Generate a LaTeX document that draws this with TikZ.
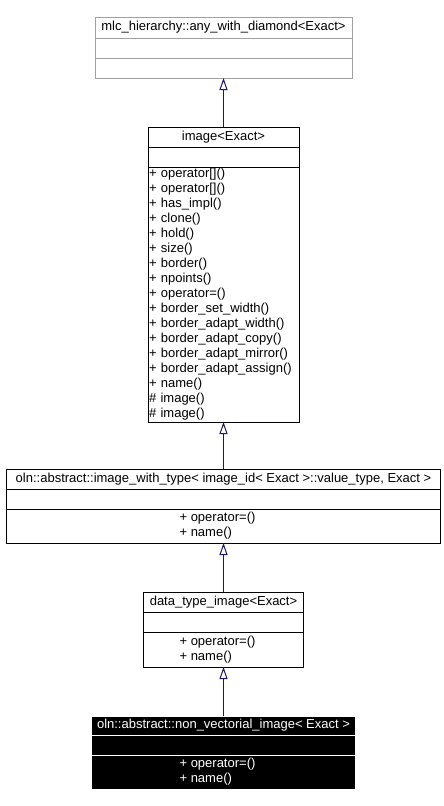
\documentclass[tikz,border=0pt]{standalone}
\usepackage{fontspec}
\setmainfont{Liberation Sans}
\usepackage{tikz}
\usetikzlibrary{arrows,arrows.meta,shapes,positioning,calc}
\definecolor{edgeblue}{RGB}{25,25,112}
\definecolor{undocgray}{RGB}{160,160,160}
\newcommand{\memberblock}[1]{\begin{tabular}{@{}l@{\hspace{12pt}}}#1\end{tabular}}

\begin{document}
\begin{tikzpicture}[x=1pt,y=-1pt,
	font=\fontsize{13}{15}\selectfont,
	compartment/.style={draw,line width=1pt,inner sep=0pt,outer sep=0pt,minimum height=20pt},
	undoc/.style={draw=undocgray},
	current/.style={fill=black,draw=white,text=white},
	inherit/.style={draw=edgeblue,line width=1pt,-{Triangle[open,length=12pt,width=8pt,fill=white]}}]
	\useasboundingbox (0,0) rectangle (444,806);

	\node[compartment,undoc,minimum width=257pt,minimum height=21pt,anchor=north] (mlc) at (223.5,17) {mlc\_hierarchy::any\_with\_diamond<Exact>};
	\node[compartment,undoc,minimum width=257pt,below=0pt of mlc] (mlcAttr) {};
	\node[compartment,undoc,minimum width=257pt,below=0pt of mlcAttr] (mlcOps) {};

	\node[compartment,minimum width=151pt,anchor=north] (img) at (223.5,127) {image<Exact>};
	\node[compartment,minimum width=151pt,below=0pt of img] (imgAttr) {};
	\node[compartment,minimum width=151pt,minimum height=255pt,text width=149pt,inner xsep=1pt,align=left,below=0pt of imgAttr] (imgOps) {%
		+ operator[]()\\+ operator[]()\\+ has\_impl()\\+ clone()\\+ hold()\\+ size()\\+ border()\\+ npoints()\\+ operator=()\\%
		+ border\_set\_width()\\+ border\_adapt\_width()\\+ border\_adapt\_copy()\\+ border\_adapt\_mirror()\\+ border\_adapt\_assign()\\%
		+ name()\\\# image()\\\# image()};

	\node[compartment,minimum width=434pt,anchor=north] (typed) at (223.5,469) {oln::abstract::image\_with\_type< image\_id< Exact >::value\_type, Exact >};
	\node[compartment,minimum width=434pt,below=0pt of typed] (typedAttr) {};
	\node[compartment,minimum width=434pt,minimum height=34pt,below=0pt of typedAttr] (typedOps) {\memberblock{+ operator=()\\+ name()}};

	\node[compartment,minimum width=160pt,anchor=north] (data) at (223.5,592) {data\_type\_image<Exact>};
	\node[compartment,minimum width=160pt,below=0pt of data] (dataAttr) {};
	\node[compartment,minimum width=160pt,minimum height=35pt,below=0pt of dataAttr] (dataOps) {\memberblock{+ operator=()\\+ name()}};

	\node[compartment,current,minimum width=264pt,minimum height=19pt,anchor=north] (nonvect) at (223.5,716) {oln::abstract::non\_vectorial\_image< Exact >};
	\node[compartment,current,minimum width=264pt,below=0pt of nonvect] (nonvectAttr) {};
	\node[compartment,current,minimum width=264pt,minimum height=34pt,below=0pt of nonvectAttr] (nonvectOps) {\memberblock{+ operator=()\\+ name()}};

	\draw[inherit] (img.north) -- (mlcOps.south);
	\draw[inherit] (typed.north) -- (imgOps.south);
	\draw[inherit] (data.north) -- (typedOps.south);
	\draw[inherit] (nonvect.north) -- (dataOps.south);
\end{tikzpicture}
\end{document}
